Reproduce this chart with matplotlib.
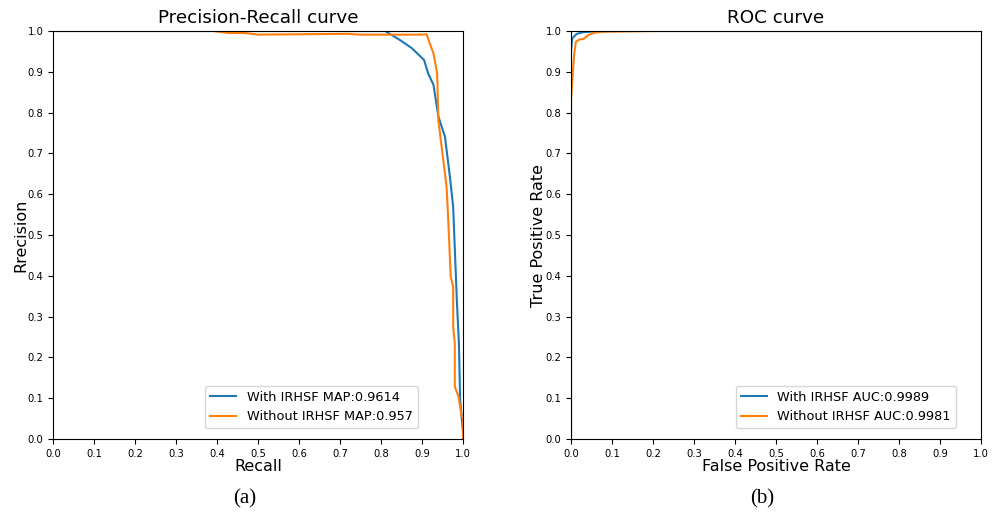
import matplotlib.pyplot as plt
import numpy as np

# ---- data -----------------------------------------------------------------
# Precision-Recall, with IRHSF
pr_with_recall = [0.0, 0.40, 0.81, 0.846, 0.875, 0.905, 0.915, 0.928, 0.94, 0.956,
                  0.968, 0.976, 0.985, 0.99, 0.993, 1.0]
pr_with_prec = [1.0, 1.0, 1.0, 0.978, 0.958, 0.929, 0.896, 0.868, 0.79, 0.741,
                0.643, 0.569, 0.34, 0.235, 0.096, 0.015]
# Precision-Recall, without IRHSF
pr_wo_recall = [0.0, 0.39, 0.43, 0.47, 0.50, 0.60, 0.72, 0.75, 0.90, 0.911, 0.928,
                0.937, 0.94, 0.96, 0.964, 0.97, 0.976, 0.976, 0.98, 0.98, 0.989,
                0.993, 0.997, 1.0, 1.0]
pr_wo_prec = [1.0, 1.0, 0.995, 0.995, 0.991, 0.992, 0.993, 0.991, 0.991, 0.992,
              0.945, 0.896, 0.78, 0.618, 0.537, 0.398, 0.373, 0.275, 0.235, 0.128,
              0.104, 0.079, 0.055, 0.055, 0.0]
# ROC, with IRHSF
roc_with_fpr = [0.0, 0.0, 0.003, 0.014, 0.03, 0.07, 1.0]
roc_with_tpr = [0.0, 0.95, 0.982, 0.993, 0.997, 1.0, 1.0]
# ROC, without IRHSF
roc_wo_fpr = [0.0, 0.0, 0.006, 0.008, 0.012, 0.022, 0.03, 0.042, 0.059, 0.075, 0.2, 1.0]
roc_wo_tpr = [0.0, 0.83, 0.92, 0.945, 0.974, 0.98, 0.98, 0.99, 0.996, 0.998, 1.0, 1.0]

ticks = np.round(np.arange(0, 1.01, 0.1), 1)

fig = plt.figure(figsize=(10, 5.14), dpi=100)
ax1 = fig.add_axes([0.053, 0.1459, 0.41, 0.7938])
ax2 = fig.add_axes([0.571, 0.1459, 0.41, 0.7938])

# ---- (a) PR curve ---------------------------------------------------------
ax1.plot(pr_with_recall, pr_with_prec, color="C0", label="With IRHSF MAP:0.9614")
ax1.plot(pr_wo_recall, pr_wo_prec, color="C1", label="Without IRHSF MAP:0.957")
ax1.set_title("Precision-Recall curve", fontsize=13.2, pad=6)
ax1.set_xlabel("Recall", fontsize=11.5, labelpad=0)
ax1.set_ylabel("Rrecision", fontsize=11.5, labelpad=-0.5)
ax1.legend(loc="lower right", bbox_to_anchor=(0.905, 0.01), fontsize=9.3)

# ---- (b) ROC curve --------------------------------------------------------
ax2.plot(roc_with_fpr, roc_with_tpr, color="C0", label="With IRHSF AUC:0.9989")
ax2.plot(roc_wo_fpr, roc_wo_tpr, color="C1", label="Without IRHSF AUC:0.9981")
ax2.set_title("ROC curve", fontsize=13.2, pad=6)
ax2.set_xlabel("False Positive Rate", fontsize=11.5, labelpad=0)
ax2.set_ylabel("True Positive Rate", fontsize=11.5, labelpad=-0.5)
ax2.legend(loc="lower right", bbox_to_anchor=(0.954, 0.01), fontsize=9.3)

for ax in (ax1, ax2):
    ax.set_xlim(0, 1)
    ax.set_ylim(0, 1)
    ax.set_xticks(ticks)
    ax.set_yticks(ticks)
    ax.tick_params(labelsize=7.2)

fig.text(0.245, 0.021, "(a)", ha="center", fontsize=15, family="Liberation Serif")
fig.text(0.762, 0.021, "(b)", ha="center", fontsize=15, family="Liberation Serif")

fig.savefig("out.png", dpi=100)
